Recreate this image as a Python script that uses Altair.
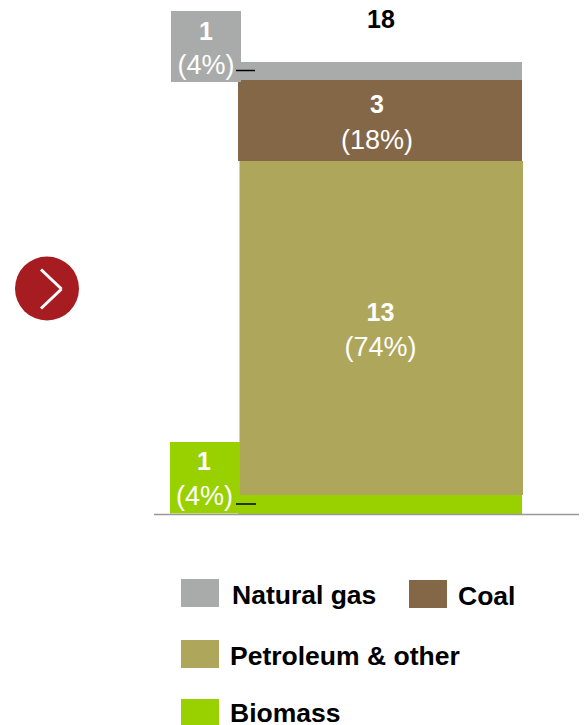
import altair as alt
import numpy as np
import pandas as pd

series = ["Biomass", "Petroleum & other", "Coal", "Natural gas"]
values = [0.76, 13.3, 3.22, 0.72]
labels = ["1", "13", "3", "1"]
shares = ["(4%)", "(74%)", "(18%)", "(4%)"]
colors = ["#99D100", "#ADA65B", "#846746", "#A9ABAA"]
total_label = "18"

FONT = "Liberation Sans"
M = 8  # page margin: pixel positions below are page positions
BOLD = 25
REG = 27
LEG = 26.5


def px(v):
    return alt.value(v - M)


ends = np.cumsum(values)
df = pd.DataFrame({"series": series, "start": ends - np.array(values), "end": ends,
                   "label": labels, "share": shares})
df["mid"] = (df["start"] + df["end"]) / 2

yscale = alt.Scale(domain=[-8.403, 20.151], nice=False, zero=False)
color = alt.Color("series:N", scale=alt.Scale(domain=series, range=colors), legend=None)
base = alt.Chart(df)


def bar(names, x0, x1):
    return base.transform_filter(alt.FieldOneOfPredicate("series", names)).mark_bar(
        cornerRadius=0, stroke=None).encode(
        x=px(x0), x2=px(x1),
        y=alt.Y("start:Q", scale=yscale, axis=None), y2="end:Q", color=color)


def box(x0, x1, y0, y1, fill):
    return alt.Chart().mark_rect(color=fill).encode(x=px(x0), x2=px(x1), y=px(y0), y2=px(y1))


def line(x0, x1, y0, y1, col, w, cap="butt"):
    return alt.Chart().mark_rule(color=col, strokeWidth=w, strokeCap=cap).encode(
        x=px(x0), x2=px(x1), y=px(y0), y2=px(y1))


def txt(s, x, y, size=REG, bold=False, col="white", align="center", baseline="middle"):
    return alt.Chart().mark_text(text=s, font=FONT, fontSize=size, fontWeight="bold" if bold else "normal",
                                 color=col, align=align, baseline=baseline).encode(x=px(x), y=px(y))


def bar_text(name, field, x, dy, bold):
    return base.transform_filter(alt.datum.series == name).mark_text(
        font=FONT, fontSize=REG if not bold else BOLD, fontWeight="bold" if bold else "normal",
        color="white", align="center", baseline="middle", dy=dy).encode(
        x=px(x), y=alt.Y("mid:Q", scale=yscale, axis=None), text=f"{field}:N")


layers = [
    bar(["Biomass", "Coal", "Natural gas"], 238, 522),
    bar(["Petroleum & other"], 239.5, 523),
    box(171, 241, 11, 82, colors[3]),
    box(170, 240, 442, 513.5, colors[0]),
    line(154, 587, 514.5, 514.5, "#999999", 1.5),
    line(236, 255, 70.5, 70.5, "black", 1.5),
    line(236, 256, 504, 504, "black", 1.5),
    bar_text("Coal", "label", 377, -15.5, True),
    bar_text("Coal", "share", 377, 20.5, False),
    bar_text("Petroleum & other", "label", 380.5, -14.5, True),
    bar_text("Petroleum & other", "share", 380.5, 20, False),
    txt(total_label, 381, 20, size=BOLD, bold=True, col="black"),
    txt(labels[3], 206, 31.5, size=BOLD, bold=True),
    txt(shares[3], 206, 65.5),
    txt(labels[0], 204, 461.5, size=BOLD, bold=True),
    txt(shares[0], 204.5, 496.5),
    alt.Chart().mark_point(shape="circle", filled=True, color="#A71C20", size=4096, opacity=1).encode(x=px(47), y=px(288.5)),
    line(41, 61.5, 269.5, 289, "white", 3),
    line(61.5, 41, 289, 308.5, "white", 3),
    box(181, 219, 579, 607, colors[3]),
    box(409, 447, 580, 608, colors[2]),
    box(181, 219, 640, 668, colors[1]),
    box(181, 219, 699, 725, colors[0]),
    txt(series[3], 232, 604, size=LEG, bold=True, col="black", align="left", baseline="alphabetic"),
    txt(series[2], 458, 605, size=LEG, bold=True, col="black", align="left", baseline="alphabetic"),
    txt(series[1], 230, 665, size=LEG, bold=True, col="black", align="left", baseline="alphabetic"),
    txt(series[0], 230, 722, size=LEG, bold=True, col="black", align="left", baseline="alphabetic"),
]

chart = alt.layer(*layers).properties(
    width=571, height=717, padding=0, background="white",
    autosize=alt.AutoSizeParams(type="none", contains="padding"),
).configure_view(stroke=None)

chart.save("out.html", embed_options={"renderer": "svg", "actions": False})
